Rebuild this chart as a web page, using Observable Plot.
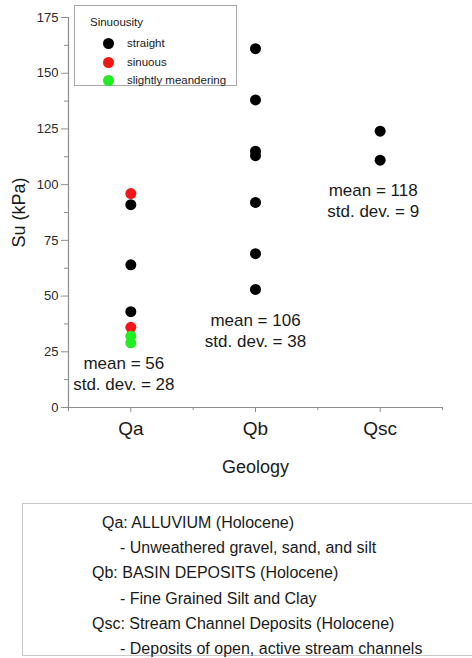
<!DOCTYPE html>
<html>
<head>
<meta charset="utf-8">
<script src="https://cdn.jsdelivr.net/npm/d3@7"></script>
<script src="https://cdn.jsdelivr.net/npm/@observablehq/plot@0.6"></script>
<style>
  html, body { margin: 0; padding: 0; background: #fff; overflow: hidden; }
  body { width: 472px; height: 658px; position: relative; font-family: "Liberation Sans", Arial, sans-serif; color: #1a1a1a; }
  #chart { position: absolute; left: 0; top: 0; }
  #legend {
    position: absolute; left: 74px; top: 5px; width: 163px; height: 81px;
    border: 1px solid #a8a8a8; background: #fff; box-sizing: border-box;
    font-size: 11.5px;
  }
  #legend .title { position: absolute; left: 15px; top: 10px; }
  #legend .row { position: absolute; left: 28px; height: 14px; line-height: 14px; }
  #legend .sw { position: absolute; left: 0; top: 2px; width: 11px; height: 11px; border-radius: 50%; }
  #legend .lab { position: absolute; left: 24px; top: 0; white-space: nowrap; }
  #caption {
    position: absolute; left: 22px; top: 503px; width: 470px; height: 153px;
    border: 1.5px solid #c8c8c8; border-right: none; box-sizing: border-box;
    font-size: 16px;
  }
  #caption div { position: absolute; white-space: nowrap; line-height: 18px; }
</style>
</head>
<body>
<div id="chart"></div>
<div id="legend"></div>
<div id="caption"></div>
<script>
// Geology units on the x axis
const categories = ["Qa", "Qb", "Qsc"];

// Sinuousity classes and their colours
const sinuosityTypes = ["straight", "sinuous", "slightly meandering"];
const sinuosityColors = ["#000000", "#f21616", "#22ec22"];

// Undrained shear strength measurements, Su (kPa)
const sampleGeology   = ["Qa", "Qa", "Qa", "Qa", "Qa", "Qa", "Qa",
                         "Qb", "Qb", "Qb", "Qb", "Qb", "Qb", "Qb",
                         "Qsc", "Qsc"];
const sampleSu        = [91, 64, 43, 96, 36, 32, 29,
                         161, 138, 115, 113, 92, 69, 53,
                         124, 111];
const sampleSinuosity = ["straight", "straight", "straight", "sinuous", "sinuous",
                         "slightly meandering", "slightly meandering",
                         "straight", "straight", "straight", "straight", "straight", "straight", "straight",
                         "straight", "straight"];

// Summary statistics printed under each unit
const statMeans = [56, 106, 118];
const statStdDevs = [28, 38, 9];

// Axis ticks
const yTicks = [0, 25, 50, 75, 100, 125, 150, 175];
const yMinorTicks = [12.5, 37.5, 62.5, 87.5, 112.5, 137.5, 162.5];

// Description of the geologic units
const unitNames = ["Qa: ALLUVIUM (Holocene)", "Qb: BASIN DEPOSITS (Holocene)", "Qsc: Stream Channel Deposits (Holocene)"];
const unitDescriptions = ["- Unweathered gravel, sand, and silt", "- Fine Grained Silt and Clay", "- Deposits of open, active stream channels"];

const samples = sampleSu.map((su, i) => ({
  geology: sampleGeology[i],
  su,
  sinuosity: sampleSinuosity[i]
}));

const stats = categories.map((c, i) => ({
  geology: c,
  low: d3.min(samples.filter(d => d.geology === c), d => d.su),
  text: `mean = ${statMeans[i]}\nstd. dev. = ${statStdDevs[i]}`
}));

// categories sit at the centre of equal-width slots
const xPos = d => categories.indexOf(d.geology) + 0.5;

const axisGrey = "#8e8e8e";
const font = "Liberation Sans, Arial, sans-serif";

const statLabel = (cat, dx, dy) =>
  Plot.text(stats.filter(d => d.geology === cat), {
    x: xPos, y: "low", text: "text", dx, dy,
    fontSize: 17, lineHeight: 1.24, fill: "#1a1a1a"
  });

const chart = Plot.plot({
  width: 472,
  height: 490,
  marginLeft: 68,
  marginRight: 30,
  marginTop: 17,
  marginBottom: 83,
  style: { fontFamily: font, background: "transparent" },
  x: { domain: [0, categories.length], axis: null },
  y: { domain: [0, 175], axis: null },
  color: { domain: sinuosityTypes, range: sinuosityColors },
  marks: [
    // axis lines
    Plot.ruleY([0], { stroke: axisGrey, strokeWidth: 1.2 }),
    Plot.ruleX([0], { stroke: axisGrey, strokeWidth: 1.2, insetBottom: -4 }),
    // y axis
    Plot.axisY(yTicks, {
      anchor: "left", tickSize: 7, tickPadding: 3, fontSize: 13,
      stroke: axisGrey, fill: "#2a2a2a", label: null
    }),
    Plot.axisY(yMinorTicks, {
      anchor: "left", tickSize: 4, text: null, stroke: axisGrey, label: null
    }),
    // y axis title
    Plot.axisY([], {
      anchor: "left", tickSize: 0, text: null, fontSize: 18, fill: "#1a1a1a",
      label: "Su (kPa)", labelAnchor: "center", labelArrow: "none", labelOffset: 56
    }),
    // x axis
    Plot.axisX([0.5, 1.5, 2.5], {
      anchor: "bottom", tickSize: 5, tickPadding: 9, fontSize: 19,
      tickFormat: v => categories[Math.floor(v)],
      stroke: axisGrey, fill: "#1a1a1a", label: null
    }),
    Plot.axisX([0, 1, 2, 3], {
      anchor: "bottom", tickSize: 3, text: null, stroke: axisGrey, label: null
    }),
    // x axis title
    Plot.text(["Geology"], { frameAnchor: "bottom", dy: 65, fontSize: 18, fill: "#1a1a1a" }),
    // measurements
    Plot.dot(samples, { x: xPos, y: "su", fill: "sinuosity", r: 5.5 }),
    // summary statistics
    statLabel("Qa", -7, 30),
    statLabel("Qb", 0, 40),
    statLabel("Qsc", -7, 40)
  ]
});
document.getElementById("chart").appendChild(chart);

// legend
const legend = document.getElementById("legend");
legend.innerHTML = `<div class="title">Sinuousity</div>` +
  sinuosityTypes.map((t, i) =>
    `<div class="row" style="top:${30 + i * 18.5}px"><span class="sw" style="background:${sinuosityColors[i]}"></span><span class="lab">${t}</span></div>`
  ).join("");

// unit descriptions
const caption = document.getElementById("caption");
const nameLeft = [79, 69, 69];
let html = "";
unitNames.forEach((name, i) => {
  html += `<div style="left:${nameLeft[i]}px; top:${9.5 + i * 50.5}px">${name}</div>`;
  html += `<div style="left:97px; top:${35 + i * 50.5}px">${unitDescriptions[i]}</div>`;
});
caption.innerHTML = html;
</script>
</body>
</html>
